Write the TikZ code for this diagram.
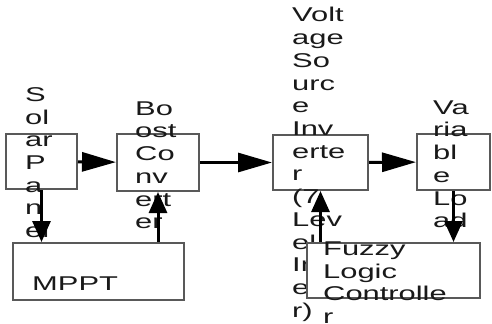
\documentclass[tikz,border=0pt]{standalone}
\usepackage{fontspec}
\usepackage{graphicx}
\setmainfont{Liberation Sans}
\usetikzlibrary{arrows.meta}
\newcommand{\widetxt}[1]{\scalebox{1.55}[1]{\begin{tabular}{@{}l@{}}#1\end{tabular}}}

\begin{document}
\begin{tikzpicture}[x=1bp,y=-1bp,
 blk/.style={draw=black!65,line width=2bp,fill=white,inner sep=0pt},
 lbl/.style={anchor=west,inner sep=0pt,text=black!90,
  font=\fontsize{20}{22.8}\selectfont},
 harr/.style={line width=3bp,-{Triangle[length=34bp,width=19bp]}},
 varr/.style={line width=3bp,-{Triangle[length=21bp,width=18bp]}}]
 \useasboundingbox (0,0) rectangle (492,323);
 % top row
 \node[blk,minimum width=71bp,minimum height=55bp] (solar) at (41.5,161.5) {};
 \node[blk,minimum width=82bp,minimum height=57bp] (boost) at (158,162.5) {};
 \node[blk,minimum width=95bp,minimum height=55bp] (inv) at (320.5,162.5) {};
 \node[blk,minimum width=73bp,minimum height=56bp] (load) at (453.5,162) {};
 \node[lbl] (solartxt) at (25,165) {\widetxt{S\\ol\\ar\\P\\a\\n\\el}};
 \node[lbl] (boosttxt) at (135,167.5) {\widetxt{Bo\\ost\\Co\\nv\\ert\\er}};
 \node[lbl] (invtxt) at (292,165) {\widetxt{Volt\\age\\So\\urc\\e\\Inv\\erte\\r\\(7\\Lev\\el\\Inv\\erte\\r)}};
 \node[lbl] (loadtxt) at (433,166.5) {\widetxt{Va\\ria\\bl\\e\\Lo\\ad}};
 % bottom row
 \node[blk,minimum width=171bp,minimum height=57bp] (mppt) at (98.5,271.5) {};
 \node[blk,minimum width=173bp,minimum height=55bp] (fuzzy) at (393.5,270.5) {};
 \node[lbl] (mppttxt) at (32,286) {\widetxt{MPPT}};
 \node[lbl] (fuzzytxt) at (323,285) {\widetxt{Fuzzy\\Logic\\Controlle\\r}};
 % arrows
 \draw[harr] (solar) -- (boost);
 \draw[harr] (boost) -- (inv);
 \draw[harr] (inv) -- (load);
 \draw[varr] (solar.south) -- (solar.south |- mppt.north);
 \draw[varr] (boost.south |- mppt.north) -- (boost.south);
 \draw[varr] (inv.south |- fuzzy.north) -- (inv.south);
 \draw[varr] (load.south) -- (load.south |- fuzzy.north);
\end{tikzpicture}
\end{document}
